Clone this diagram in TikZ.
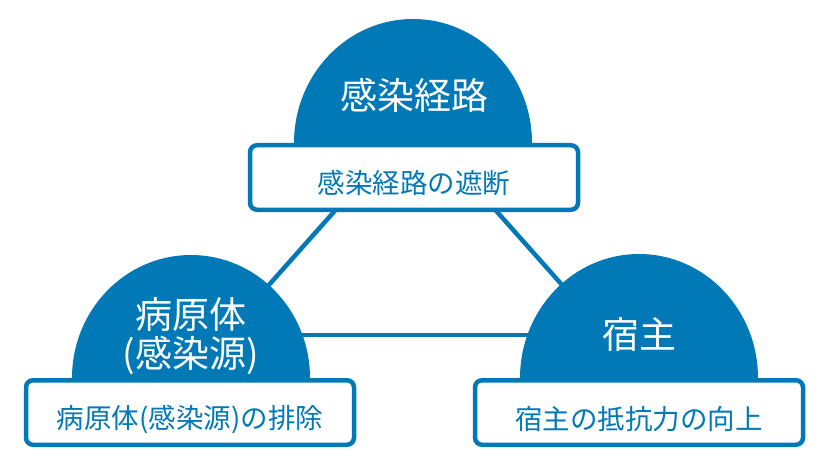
\documentclass[tikz,border=0pt]{standalone}
\usepackage{fontspec}
\setmainfont{Noto Sans CJK JP}
\definecolor{mainblue}{RGB}{0,121,182}
\begin{document}
\begin{tikzpicture}[x=1pt,y=-1pt,
  dome/.style={fill=mainblue,draw=none},
  title/.style={text=white,font=\fontsize{37}{41}\selectfont,inner sep=0pt,align=center},
  box/.style={draw=mainblue,line width=4.5pt,fill=white,rounded corners=7pt,minimum width=328pt,minimum height=64.5pt,inner sep=0pt},
  boxtext/.style={text=mainblue,font=\fontsize{27.5}{30}\selectfont,inner sep=0pt},
  link/.style={draw=mainblue,line width=4.5pt}]
\useasboundingbox (0,0) rectangle (829,473);
% connector end points (hidden under shapes)
\coordinate (tl) at (340,205);
\coordinate (lt) at (260,295);
\coordinate (tr) at (491,205);
\coordinate (rt) at (571,295);
\coordinate (lr) at (260,335);
\coordinate (rl) at (570,335);
\draw[link] (tl) -- (lt);
\draw[link] (tr) -- (rt);
\draw[link] (lr) -- (rl);
% domes
\path[dome] (294,143) arc[start angle=180,end angle=360,x radius=119,y radius=124] -- cycle;
\path[dome] (72,378) arc[start angle=180,end angle=360,x radius=119,y radius=123] -- cycle;
\path[dome] (520,378) arc[start angle=180,end angle=360,x radius=119,y radius=124] -- cycle;
% titles
\node[title] (t1) at (414,95) {感染経路};
\node[title] (t2) at (191,336) {病原体\\[-2pt](感染源)};
\node[title] (t3) at (639,334) {宿主};
% boxes
\node[box] (b1) at (414,177.5) {};
\node[box] (b2) at (190,412.5) {};
\node[box] (b3) at (639,412.5) {};
\node[boxtext] (s1) at (414,183.5) {感染経路の遮断};
\node[boxtext] (s2) at (190,420) {病原体(感染源)の排除};
\node[boxtext] (s3) at (639,419.5) {宿主の抵抗力の向上};
\end{tikzpicture}
\end{document}
